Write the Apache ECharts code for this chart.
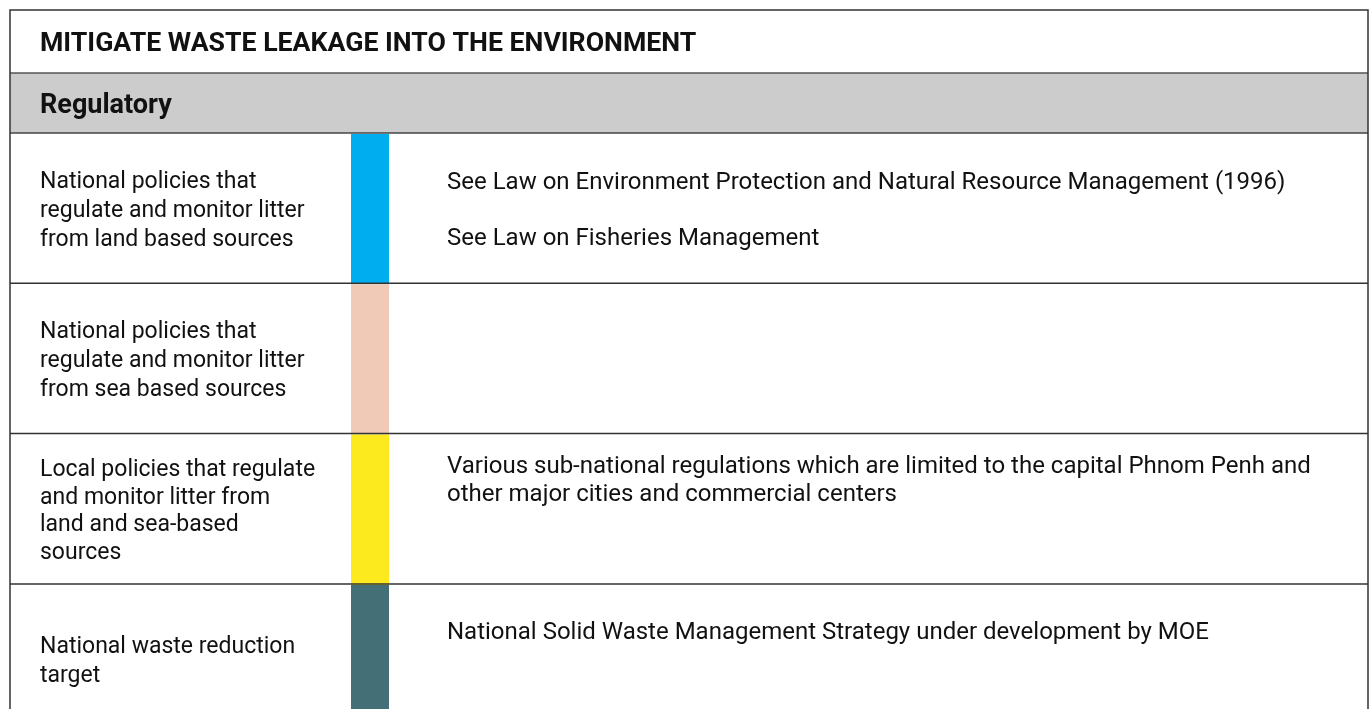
<!DOCTYPE html>
<html>
<head>
<meta charset="utf-8">
<script src="https://cdn.jsdelivr.net/npm/echarts@6/dist/echarts.min.js"></script>
<style>
html,body{margin:0;padding:0;background:#fff;}
#main{width:1372px;height:709px;}
</style>
</head>
<body>
<div id="main"></div>
<script>
var title = 'MITIGATE WASTE LEAKAGE INTO THE ENVIRONMENT';
var section = 'Regulatory';
var rowLabels = [
  'National policies that\nregulate and monitor litter\nfrom land based sources',
  'National policies that\nregulate and monitor litter\nfrom sea based sources',
  'Local policies that regulate\nand monitor litter from\nland and sea-based\nsources',
  'National waste reduction\ntarget'
];
var rowDetails = [
  'See Law on Environment Protection and Natural Resource Management (1996)\n\nSee Law on Fisheries Management',
  '',
  'Various sub-national regulations which are limited to the capital Phnom Penh and\nother major cities and commercial centers',
  'National Solid Waste Management Strategy under development by MOE'
];
var rowColors = ['#00AEEF', '#F0CAB6', '#FCEA1F', '#456F77'];

var chart = echarts.init(document.getElementById('main'));
var L = 10, R = 1368, T = 10, headY = 73, secY = 133, rowH = 150.3;
var detailTop = [50, 33, 33, 49];
var labelLH = [29, 29, 27.5, 29];
var els = [];
els.push({type:'rect', shape:{x:L, y:headY, width:R-L, height:secY-headY}, style:{fill:'#CCCCCC'}});
els.push({type:'text', style:{x:40, y:44, text:title, font:'bold 26.7px Roboto', fill:'#111', verticalAlign:'middle'}});
els.push({type:'text', style:{x:40, y:106, text:section, font:'bold 27px Roboto', fill:'#111', verticalAlign:'middle'}});
for (var i = 0; i < rowLabels.length; i++) {
  var y0 = secY + i * rowH;
  els.push({type:'rect', shape:{x:351, y:y0 + 1, width:38, height:rowH}, style:{fill:rowColors[i]}});
  els.push({type:'text', style:{x:40, y:y0 + rowH/2 + 3, text:rowLabels[i], font:'23px Roboto', fill:'#111', verticalAlign:'middle', lineHeight:labelLH[i]}});
  if (rowDetails[i]) {
    els.push({type:'text', style:{x:447, y:y0 + detailTop[i] - 14, text:rowDetails[i], font:'24px Roboto', fill:'#111', verticalAlign:'top', lineHeight:28}});
  }
  if (i > 0) {
    els.push({type:'line', shape:{x1:L, y1:y0, x2:R, y2:y0}, style:{stroke:'#333', lineWidth:1.5}});
  }
}
els.push({type:'line', shape:{x1:L, y1:headY, x2:R, y2:headY}, style:{stroke:'#555', lineWidth:1.5}});
els.push({type:'line', shape:{x1:L, y1:secY, x2:R, y2:secY}, style:{stroke:'#444', lineWidth:1.5}});
els.push({type:'polyline', shape:{points:[[L, 720],[L, T],[R, T],[R, 720]]}, style:{stroke:'#333', lineWidth:1.5, fill:null}});

chart.setOption({animation:false, graphic:{elements:els}});
</script>
</body>
</html>
